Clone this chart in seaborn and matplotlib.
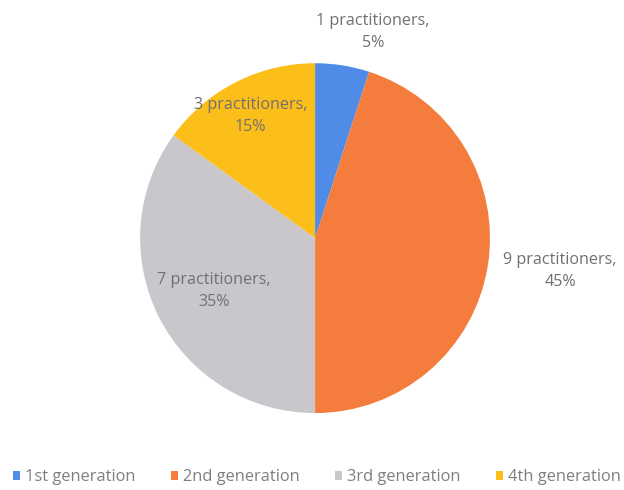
import seaborn as sns
import matplotlib.pyplot as plt
from matplotlib.patches import Patch

# data
generations = ["1st generation", "2nd generation", "3rd generation", "4th generation"]
practitioners = [1, 9, 7, 3]
percent = [5, 45, 35, 15]
colors = ["#4F8CE8", "#F47C3C", "#C9C7CB", "#FCBE19"]

# label layout (pie units, radius = 1)
label_pos = [(0.33, 1.18), (1.40, -0.19), (-0.58, -0.30), (-0.37, 0.70)]

sns.set_theme(style="white")
plt.rcParams["font.family"] = ["Open Sans", "DejaVu Sans"]
palette = sns.color_palette(colors)

fig = plt.figure(figsize=(6.24, 4.9), dpi=100)
ax = fig.add_axes([0.2244, 0.157, 0.561, 0.714])
ax.pie(practitioners, colors=palette, startangle=90, counterclock=False,
       radius=1, wedgeprops=dict(linewidth=0))
ax.set_xlim(-1, 1)
ax.set_ylim(-1, 1)
ax.set_aspect("equal")
ax.axis("off")

for n, p, (x, y) in zip(practitioners, percent, label_pos):
    ax.text(x, y, f"{n} practitioners,\n{p}%", ha="center", va="center",
            fontsize=11.6, color="#707070", linespacing=1.5, clip_on=False)

handles = [Patch(facecolor=c, edgecolor="none") for c in palette]
fig.legend(handles, generations, loc="center", bbox_to_anchor=(0.508, 0.026),
           ncol=4, frameon=False, fontsize=11.8, labelcolor="#7F7F7F",
           handlelength=0.4, handleheight=0.4, handletextpad=0.3,
           columnspacing=2.2, borderpad=0, borderaxespad=0)

fig.savefig("out.png", dpi=100)
